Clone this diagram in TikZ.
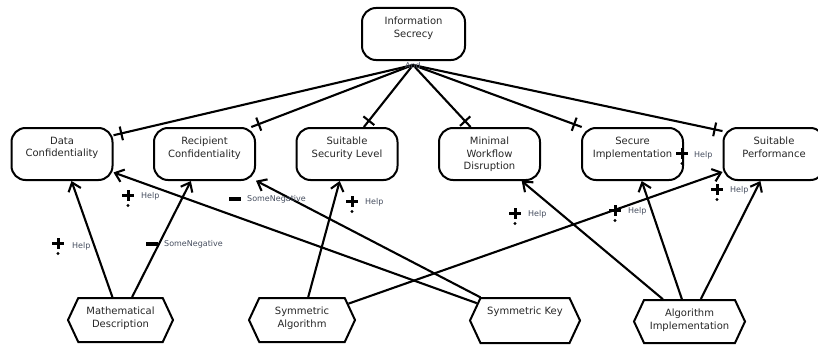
\documentclass[tikz,border=0pt]{standalone}
\usepackage{fontspec}
\setmainfont{DejaVu Sans}
\usepackage{xcolor}
\usetikzlibrary{shapes.symbols,arrows.meta,decorations.markings}

\definecolor{tagcol}{RGB}{70,78,95}

\begin{document}
\begin{tikzpicture}[x=1pt,y=-1pt,
    softgoal/.style={draw, line width=2pt, rounded corners=14pt, minimum width=101pt, minimum height=52pt, inner sep=0pt},
    resource/.style={draw, line width=2pt, shape=signal, signal to=west and east, signal pointer angle=130, minimum width=106pt, minimum height=44pt, inner sep=0pt},
    intext/.style={anchor=north, yshift=-10pt, align=center, font=\fontsize{10}{12.5}\selectfont, text=black!85, inner sep=0pt},
    tag/.style={anchor=west, inner sep=0pt, font=\fontsize{8}{9}\selectfont, text=tagcol},
    andlink/.style={line width=2.1pt, postaction={decorate}, decoration={markings, mark=at position -8pt with {\draw[line width=2.1pt] (0pt,-7pt) -- (0pt,7pt);}}},
    contrib/.style={line width=2.1pt, -{Straight Barb[length=8pt,width=13pt]}},
    helpmark/.pic={\draw[line width=3pt] (-6,0) -- (6,0) (0,-5) -- (0,6); \fill (0,10.5) circle (1.6);},
    hurtmark/.pic={\draw[line width=3.5pt] (-6,0) -- (6,0);}
]
    \useasboundingbox (0,0) rectangle (818,345);

    % Top goal
    \node[softgoal, minimum width=103pt, label={[intext]north:Information\\Secrecy}] (infosec) at (413.5,34) {};
    \coordinate (andpt) at (413,65);

    % Softgoals
    \node[softgoal, label={[intext]north:Data\\Confidentiality}] (dataconf) at (62,154) {};
    \node[softgoal, label={[intext]north:Recipient\\Confidentiality}] (recipconf) at (204.5,154) {};
    \node[softgoal, label={[intext]north:Suitable\\Security Level}] (seclevel) at (347,154) {};
    \node[softgoal, label={[intext]north:Minimal\\Workflow\\Disruption}] (workflow) at (489.5,154) {};
    \node[softgoal, label={[intext]north:Secure\\Implementation}] (secimpl) at (632.5,154) {};
    \node[softgoal, label={[intext]north:Suitable\\Performance}] (perf) at (774,154) {};

    % Resources
    \node[resource, minimum width=105pt, label={[intext]north:Mathematical\\Description}] (mathdesc) at (120.5,320) {};
    \node[resource, label={[intext]north:Symmetric\\Algorithm}] (symalg) at (302,320) {};
    \node[resource, minimum width=110pt, minimum height=45pt, label={[intext]north:Symmetric Key}] (symkey) at (525,320.5) {};
    \node[resource, minimum width=111pt, minimum height=43pt, label={[intext]north:Algorithm\\Implementation}] (algimpl) at (689.5,321.5) {};

    % And decomposition
    \draw[andlink] (andpt) -- (dataconf.20);
    \draw[andlink] (andpt) -- (recipconf.30);
    \draw[andlink] (andpt) -- (seclevel.58);
    \draw[andlink] (andpt) -- (workflow.125);
    \draw[andlink] (andpt) -- (secimpl.152);
    \draw[andlink] (andpt) -- (perf.156);
    \node[tag, anchor=center] (andlbl) at (413,66) {And};

    % Contributions
    \draw[contrib] (mathdesc) -- (dataconf);
    \draw[contrib] (mathdesc) -- (recipconf);
    \draw[contrib] (symkey) -- (dataconf);
    \draw[contrib] (symkey) -- (recipconf);
    \draw[contrib] (symalg) -- (seclevel);
    \draw[contrib] (symalg) -- (perf);
    \draw[contrib] (algimpl) -- (workflow);
    \draw[contrib] (algimpl) -- (secimpl);
    \draw[contrib] (algimpl) -- (perf);

    % Contribution labels
    \pic at (58,243) {helpmark};
    \node[tag] (help1) at (72,246) {Help};
    \pic at (152,244) {hurtmark};
    \node[tag] (hurt1) at (164,244) {SomeNegative};
    \pic at (128,195) {helpmark};
    \node[tag] (help2) at (141,196) {Help};
    \pic at (235,199) {hurtmark};
    \node[tag] (hurt2) at (247,199) {SomeNegative};
    \pic at (352,201) {helpmark};
    \node[tag] (help3) at (365,202) {Help};
    \pic at (615,210) {helpmark};
    \node[tag] (help4) at (628,211) {Help};
    \pic at (515,213) {helpmark};
    \node[tag] (help5) at (528,214) {Help};
    \pic at (682,153) {helpmark};
    \node[tag] (help6) at (694,155) {Help};
    \pic at (717,189) {helpmark};
    \node[tag] (help7) at (730,190) {Help};
\end{tikzpicture}
\end{document}
